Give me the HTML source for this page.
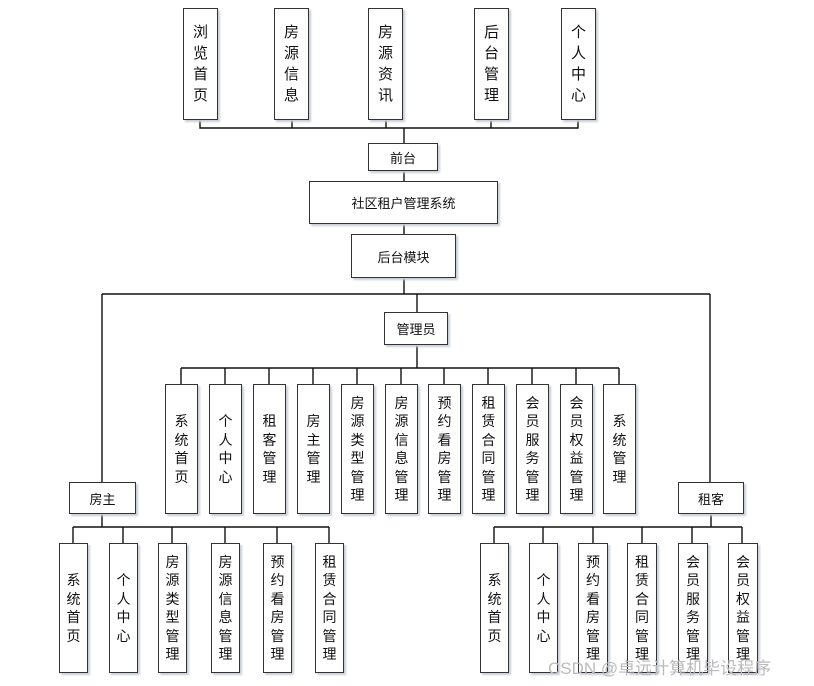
<!DOCTYPE html>
<html><head><meta charset="utf-8"><style>
body{margin:0;width:814px;height:686px;background:#fff;position:relative;overflow:hidden;font-family:"Liberation Sans","Noto Sans CJK SC",sans-serif;color:#111}
.b{position:absolute;box-sizing:border-box;border:1.3px solid #333;background:#fff;box-shadow:2px 2px 2px #c8cdd8;display:flex;align-items:center;justify-content:center;text-align:center;font-size:13px}
.v{flex-direction:column;line-height:18.5px;font-size:14px}
.t{line-height:21px;font-size:15px}
svg{position:absolute;left:0;top:0}
.wm{position:absolute;left:548px;top:654px;font-size:17px;color:#bbb}
</style></head><body>
<svg width="814" height="686" stroke="#111" stroke-width="1.4" fill="none">
<path d="M200 120V128H578V120M292 120V128M386 120V128M491 120V128M404 128V143M404 171V181M404 224V234M404 278V294M102 294H710M417 294V312M102 294V482M710 294V482M417 345V368M181 368H619"/>
<path d="M181 368V384M225 368V384M269 368V384M313 368V384M357 368V384M401 368V384M444 368V384M488 368V384M532 368V384M576 368V384M619 368V384"/>
<path d="M102 514V527M73 527H329M73 527V543M123 527V543M172 527V543M225 527V543M277 527V543M329 527V543"/>
<path d="M711 514V527M494 527H742M494 527V543M543 527V543M593 527V543M642 527V543M692 527V543M742 527V543"/>
</svg>
<div class="b v t" style="left:183px;top:8px;width:35px;height:112px">浏<br>览<br>首<br>页</div>
<div class="b v t" style="left:274px;top:8px;width:35px;height:112px">房<br>源<br>信<br>息</div>
<div class="b v t" style="left:368px;top:8px;width:35px;height:112px">房<br>源<br>资<br>讯</div>
<div class="b v t" style="left:474px;top:8px;width:35px;height:112px">后<br>台<br>管<br>理</div>
<div class="b v t" style="left:561px;top:8px;width:35px;height:112px">个<br>人<br>中<br>心</div>
<div class="b" style="left:368px;top:143px;width:70px;height:28px">前台</div>
<div class="b" style="left:309px;top:181px;width:189px;height:43px">社区租户管理系统</div>
<div class="b" style="left:351px;top:234px;width:105px;height:44px">后台模块</div>
<div class="b" style="left:384px;top:312px;width:64px;height:33px">管理员</div>
<div class="b" style="left:69px;top:482px;width:67px;height:32px">房主</div>
<div class="b" style="left:678px;top:482px;width:66px;height:32px">租客</div>

<div class="b v" style="left:165px;top:384px;width:33px;height:130px">系<br>统<br>首<br>页</div>
<div class="b v" style="left:209px;top:384px;width:33px;height:130px">个<br>人<br>中<br>心</div>
<div class="b v" style="left:253px;top:384px;width:33px;height:130px">租<br>客<br>管<br>理</div>
<div class="b v" style="left:297px;top:384px;width:33px;height:130px">房<br>主<br>管<br>理</div>
<div class="b v" style="left:341px;top:384px;width:33px;height:130px">房<br>源<br>类<br>型<br>管<br>理</div>
<div class="b v" style="left:385px;top:384px;width:33px;height:130px">房<br>源<br>信<br>息<br>管<br>理</div>
<div class="b v" style="left:428px;top:384px;width:33px;height:130px">预<br>约<br>看<br>房<br>管<br>理</div>
<div class="b v" style="left:472px;top:384px;width:33px;height:130px">租<br>赁<br>合<br>同<br>管<br>理</div>
<div class="b v" style="left:516px;top:384px;width:33px;height:130px">会<br>员<br>服<br>务<br>管<br>理</div>
<div class="b v" style="left:560px;top:384px;width:33px;height:130px">会<br>员<br>权<br>益<br>管<br>理</div>
<div class="b v" style="left:603px;top:384px;width:33px;height:130px">系<br>统<br>管<br>理</div>

<div class="b v" style="left:59px;top:543px;width:29px;height:130px">系<br>统<br>首<br>页</div>
<div class="b v" style="left:109px;top:543px;width:29px;height:130px">个<br>人<br>中<br>心</div>
<div class="b v" style="left:158px;top:543px;width:29px;height:130px">房<br>源<br>类<br>型<br>管<br>理</div>
<div class="b v" style="left:211px;top:543px;width:29px;height:130px">房<br>源<br>信<br>息<br>管<br>理</div>
<div class="b v" style="left:263px;top:543px;width:29px;height:130px">预<br>约<br>看<br>房<br>管<br>理</div>
<div class="b v" style="left:315px;top:543px;width:29px;height:130px">租<br>赁<br>合<br>同<br>管<br>理</div>

<div class="b v" style="left:480px;top:543px;width:29px;height:130px">系<br>统<br>首<br>页</div>
<div class="b v" style="left:529px;top:543px;width:29px;height:130px">个<br>人<br>中<br>心</div>
<div class="b v" style="left:578px;top:543px;width:30px;height:130px">预<br>约<br>看<br>房<br>管<br>理</div>
<div class="b v" style="left:627px;top:543px;width:30px;height:130px">租<br>赁<br>合<br>同<br>管<br>理</div>
<div class="b v" style="left:678px;top:543px;width:30px;height:130px">会<br>员<br>服<br>务<br>管<br>理</div>
<div class="b v" style="left:728px;top:543px;width:30px;height:130px">会<br>员<br>权<br>益<br>管<br>理</div>
<div class="wm">CSDN @卓远计算机毕设程序</div>
</body></html>
